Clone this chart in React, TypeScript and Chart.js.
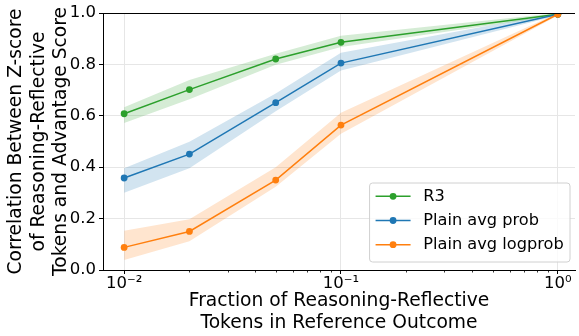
import React, { useEffect, useRef } from "react";
import { Chart, registerables } from "chart.js";

Chart.register(...registerables);

// ---- data ----
const fractions = [0.01, 0.02, 0.05, 0.1, 1];

const r3Mean = [0.608, 0.702, 0.821, 0.886, 0.995];
const r3Lower = [0.572, 0.664, 0.799, 0.868, 0.99];
const r3Upper = [0.633, 0.739, 0.841, 0.911, 1.0];

const probMean = [0.358, 0.451, 0.651, 0.805, 0.995];
const probLower = [0.301, 0.396, 0.618, 0.776, 0.99];
const probUpper = [0.396, 0.499, 0.687, 0.845, 1.0];

const logprobMean = [0.088, 0.15, 0.35, 0.564, 0.995];
const logprobLower = [0.039, 0.112, 0.324, 0.53, 0.99];
const logprobUpper = [0.153, 0.197, 0.4, 0.612, 1.0];

const seriesLabels = ["R3", "Plain avg prob", "Plain avg logprob"];

const yTicks = [0, 0.2, 0.4, 0.6, 0.8, 1.0];
const xMajorTicks = [0.01, 0.1, 1];
const xTickLabels = ["10\u207B\u00B2", "10\u207B\u00B9", "10\u2070"];
const xMinorTicks = [
  0.02, 0.03, 0.04, 0.05, 0.06, 0.07, 0.08, 0.09,
  0.2, 0.3, 0.4, 0.5, 0.6, 0.7, 0.8, 0.9,
];

const xTitle = ["Fraction of Reasoning-Reflective", "Tokens in Reference Outcome"];
const yTitle = ["Correlation Between Z-score", "of Reasoning-Reflective", "Tokens and Advantage Score"];

// ---- styles ----
const GREEN = "#2ca02c";
const BLUE = "#1f77b4";
const ORANGE = "#ff7f0e";
const GREEN_BAND = "rgba(44,160,44,0.2)";
const BLUE_BAND = "rgba(31,119,180,0.2)";
const ORANGE_BAND = "rgba(255,127,14,0.2)";
const FONT = "'DejaVu Sans', sans-serif";

const pts = (ys: number[]) => fractions.map((x, i) => ({ x, y: ys[i] }));

const frameAndTicksPlugin = {
  id: "frameAndTicks",
  afterDraw(chart: any) {
    const { ctx, chartArea } = chart;
    const xs = chart.scales.x;
    ctx.save();
    ctx.strokeStyle = "#000";
    ctx.lineWidth = 1;
    // top spine
    ctx.beginPath();
    ctx.moveTo(chartArea.left, Math.round(chartArea.top) + 0.5);
    ctx.lineTo(chartArea.right, Math.round(chartArea.top) + 0.5);
    ctx.stroke();
    // minor x ticks
    ctx.lineWidth = 0.8;
    for (const v of xMinorTicks) {
      const px = Math.round(xs.getPixelForValue(v)) + 0.5;
      if (px < chartArea.left || px > chartArea.right) continue;
      ctx.beginPath();
      ctx.moveTo(px, chartArea.bottom);
      ctx.lineTo(px, chartArea.bottom + 2.5);
      ctx.stroke();
    }
    ctx.restore();
  },
};

const boxLegendPlugin = {
  id: "boxLegend",
  afterDraw(chart: any) {
    const { ctx, chartArea } = chart;
    const items = chart.data.datasets.filter((d: any) => !d.isBand);
    const fontSize = 16.2;
    ctx.save();
    ctx.font = `${fontSize}px ${FONT}`;
    let maxW = 0;
    for (const it of items) maxW = Math.max(maxW, ctx.measureText(it.label).width);
    const padL = 6;
    const handle = 35;
    const gap = 12.7;
    const padR = 6.3;
    const rowH = 24.2;
    const padTB = 1.2;
    const w = padL + handle + gap + maxW + padR;
    const h = rowH * items.length + padTB * 2 + 4;
    const right = chartArea.right - 5;
    const bottom = chartArea.bottom - 8;
    const left = right - w;
    const top = bottom - h;
    // box
    const r = 3;
    ctx.beginPath();
    ctx.moveTo(left + r, top);
    ctx.lineTo(right - r, top);
    ctx.quadraticCurveTo(right, top, right, top + r);
    ctx.lineTo(right, bottom - r);
    ctx.quadraticCurveTo(right, bottom, right - r, bottom);
    ctx.lineTo(left + r, bottom);
    ctx.quadraticCurveTo(left, bottom, left, bottom - r);
    ctx.lineTo(left, top + r);
    ctx.quadraticCurveTo(left, top, left + r, top);
    ctx.closePath();
    ctx.fillStyle = "rgba(255,255,255,0.8)";
    ctx.fill();
    ctx.strokeStyle = "#d0d0d0";
    ctx.lineWidth = 1;
    ctx.stroke();
    items.forEach((it: any, i: number) => {
      const cy = top + 13.3 + i * rowH;
      const hx = left + padL;
      ctx.strokeStyle = it.borderColor;
      ctx.lineWidth = 1.5;
      ctx.beginPath();
      ctx.moveTo(hx, cy);
      ctx.lineTo(hx + handle, cy);
      ctx.stroke();
      ctx.fillStyle = it.borderColor;
      ctx.beginPath();
      ctx.arc(hx + handle / 2, cy, 3.4, 0, Math.PI * 2);
      ctx.fill();
      ctx.fillStyle = "#000";
      ctx.textBaseline = "middle";
      ctx.textAlign = "left";
      ctx.fillText(it.label, hx + handle + gap, cy + 0.5);
    });
    ctx.restore();
  },
};

export default function App() {
  const ref = useRef<HTMLCanvasElement | null>(null);

  useEffect(() => {
    if (!ref.current) return;
    Chart.defaults.font.family = FONT;
    Chart.defaults.color = "#000";

    const lineDs = (label: string, data: number[], color: string, order: number) => ({
      label,
      data: pts(data),
      borderColor: color,
      backgroundColor: color,
      borderWidth: 1.5,
      pointRadius: 3.4,
      pointBorderWidth: 0,
      pointBackgroundColor: color,
      tension: 0,
      fill: false,
      order,
    });
    const bandDs = (label: string, data: number[], fill: any, color: string) => ({
      label,
      data: pts(data),
      borderWidth: 0,
      borderColor: "rgba(0,0,0,0)",
      backgroundColor: color,
      pointRadius: 0,
      tension: 0,
      fill,
      order: 10,
      isBand: true,
    });

    const chart = new Chart(ref.current, {
      type: "line",
      data: {
        datasets: [
          lineDs(seriesLabels[0], r3Mean, GREEN, 3),
          lineDs(seriesLabels[1], probMean, BLUE, 2),
          lineDs(seriesLabels[2], logprobMean, ORANGE, 1),
          bandDs("R3 upper", r3Upper, false, GREEN_BAND),
          bandDs("R3 lower", r3Lower, { target: 3 }, GREEN_BAND),
          bandDs("prob upper", probUpper, false, BLUE_BAND),
          bandDs("prob lower", probLower, { target: 5 }, BLUE_BAND),
          bandDs("logprob upper", logprobUpper, false, ORANGE_BAND),
          bandDs("logprob lower", logprobLower, { target: 7 }, ORANGE_BAND),
        ] as any,
      },
      options: {
        animation: false,
        responsive: false,
        devicePixelRatio: 1,
        layout: { padding: { top: 13, right: 1, left: 0, bottom: 0 } },
        plugins: {
          legend: { display: false },
          tooltip: { enabled: false },
        },
        scales: {
          x: {
            type: "logarithmic",
            min: 0.00799,
            max: 1.2,
            afterBuildTicks: (s: any) => {
              s.ticks = xMajorTicks.map((v) => ({ value: v }));
            },
            afterFit: (s: any) => {
              s.height = 66;
            },
            ticks: {
              autoSkip: false,
              maxRotation: 0,
              padding: 0,
              font: { size: 16.5 },
              color: "#000",
              callback: (_v: any, i: number) => xTickLabels[i],
            },
            grid: {
              color: "#e6e6e6",
              lineWidth: 1,
              tickColor: "#000",
              tickLength: 4,
            },
            border: { display: true, color: "#000", width: 1 },
            title: {
              display: true,
              text: xTitle,
              font: { size: 18.7 },
              color: "#000",
              padding: { top: 0, bottom: 1.3 },
            },
          },
          y: {
            type: "linear",
            min: 0,
            max: 1,
            afterBuildTicks: (s: any) => {
              s.ticks = yTicks.map((v) => ({ value: v }));
            },
            afterFit: (s: any) => {
              s.width = 103;
            },
            ticks: {
              padding: 3,
              font: { size: 16.5 },
              color: "#000",
              callback: (v: any) => Number(v).toFixed(1),
            },
            grid: {
              color: "#e6e6e6",
              lineWidth: 1,
              tickColor: "#000",
              tickLength: 4,
            },
            border: { display: true, color: "#000", width: 1 },
            title: {
              display: true,
              text: yTitle,
              font: { size: 18.7 },
              color: "#000",
              padding: { top: 5, bottom: 0 },
            },
          },
        },
      } as any,
      plugins: [frameAndTicksPlugin, boxLegendPlugin],
    });

    return () => chart.destroy();
  }, []);

  return (
    <div style={{ position: "fixed", left: 0, top: 0, width: 579, height: 336, background: "#fff" }}>
      <canvas ref={ref} width={579} height={336} style={{ display: "block" }} />
    </div>
  );
}
